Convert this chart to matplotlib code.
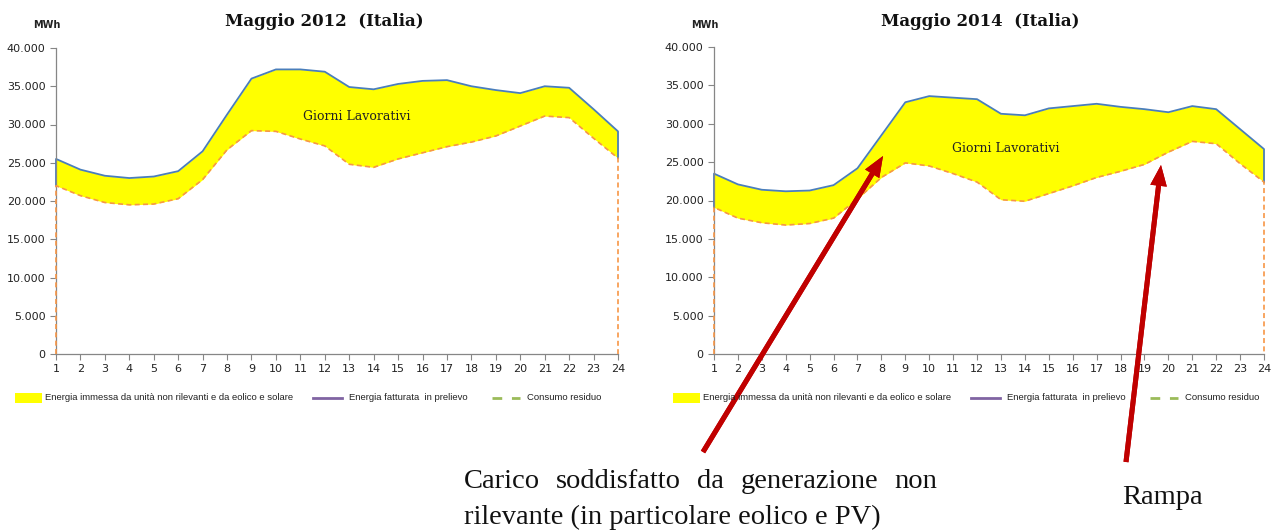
import matplotlib.pyplot as plt
from matplotlib.patches import Rectangle
from matplotlib.lines import Line2D
from matplotlib.ticker import FuncFormatter

hours = list(range(1, 25))

# Maggio 2012 - energia fatturata in prelievo / consumo residuo (MWh)
load_2012 = [25500, 24100, 23300, 23000, 23200, 23900, 26500, 31300, 36000, 37200, 37200, 36900,
             34900, 34600, 35300, 35700, 35800, 35000, 34500, 34100, 35000, 34800, 32000, 29100]
resid_2012 = [22000, 20700, 19800, 19500, 19600, 20300, 22800, 26700, 29200, 29100, 28100, 27200,
              24800, 24400, 25500, 26300, 27100, 27700, 28500, 29800, 31100, 30900, 28200, 25600]

# Maggio 2014
load_2014 = [23500, 22100, 21400, 21200, 21300, 22000, 24200, 28500, 32800, 33600, 33400, 33200,
             31300, 31100, 32000, 32300, 32600, 32200, 31900, 31500, 32300, 31900, 29300, 26700]
resid_2014 = [19100, 17700, 17100, 16800, 17000, 17700, 20200, 23000, 24900, 24500, 23500, 22400,
              20100, 19900, 20900, 21900, 23000, 23800, 24700, 26300, 27700, 27400, 24800, 22400]

titles = ['Maggio 2012  (Italia)', 'Maggio 2014  (Italia)']
legend_labels = ['Energia immessa da unità non rilevanti e da eolico e solare',
                 'Energia fatturata  in prelievo', 'Consumo residuo']
note_left = ['Carico soddisfatto da generazione non', 'rilevante (in particolare eolico e PV)']
note_right = 'Rampa'

fig = plt.figure(figsize=(12.72, 5.31), dpi=100)
W, H = 1272, 531

def fmt(v, pos):
    return '{:,.0f}'.format(v).replace(',', '.')

def px(x, y):
    # pixel from top-left -> figure fraction
    return x / W, (H - y) / H

axes_px = [(56, 618, 48, 354), (714, 1264, 47, 354)]
data = [(load_2012, resid_2012), (load_2014, resid_2014)]
label_pos = [(13.3, 31000), (13.2, 26800)]
title_cx = [324, 980]
offset = [0, 658]

for i in range(2):
    x0, x1, ytop, ybot = axes_px[i]
    ax = fig.add_axes([x0 / W, (H - ybot) / H, (x1 - x0) / W, (ybot - ytop) / H])
    load, resid = data[i]
    ax.fill_between(hours, resid, load, color='#ffff00', lw=0)
    ax.plot([1] + hours + [24], [resid[0]] + load + [resid[-1]], color='#4a7ebb', lw=1.3,
            clip_on=False)
    ax.plot([1] + hours + [24], [0] + resid + [0], color='#f79646', lw=1.2, ls=(0, (3, 2)),
            clip_on=False, zorder=3)
    ax.set_xlim(1, 24)
    ax.set_ylim(0, 40000)
    ax.set_xticks(hours)
    ax.set_yticks(range(0, 40001, 5000))
    ax.yaxis.set_major_formatter(FuncFormatter(fmt))
    for s in ['top', 'right']:
        ax.spines[s].set_visible(False)
    for s in ['left', 'bottom']:
        ax.spines[s].set_color('#868686')
        ax.spines[s].set_linewidth(0.9)
    ax.tick_params(colors='#868686', labelcolor='#222222', labelsize=8, length=4)
    ax.tick_params(axis='x', pad=3)
    ax.patch.set_alpha(0)
    ax.text(*label_pos[i], 'Giorni Lavorativi', family='DejaVu Serif', fontsize=9,
            ha='center', va='center', color='#222222')
    fig.text(*px(title_cx[i], 22), titles[i], family='DejaVu Serif',
             fontweight='bold', fontsize=12, ha='center', va='center', color='#111111')
    fig.text(*px(x0 - 23, 25), 'MWh', family='DejaVu Sans', fontweight='bold', fontsize=7,
             ha='left', va='center', color='#222222')

    # legend drawn by hand below each chart
    o = offset[i]
    ly = 398
    fig.add_artist(Rectangle(px(15 + o, ly + 5), 27 / W, 10 / H, color='#ffff00', lw=0,
                             transform=fig.transFigure))
    fig.add_artist(Line2D([(313 + o) / W, (342 + o) / W], [(H - ly) / H] * 2, color='#8064a2',
                          lw=2, transform=fig.transFigure))
    fig.add_artist(Line2D([(492 + o) / W, (520 + o) / W], [(H - ly) / H] * 2, color='#9bbb59',
                          lw=2, ls=(0, (3.5, 3.5)), transform=fig.transFigure))
    for lx, lab in zip([45, 349, 527], legend_labels):
        fig.text(*px(lx + o, ly), lab, family='Liberation Sans', fontsize=6.8,
                 ha='left', va='center', color='#222222')

# red arrows
for tail, head in [((703, 452), (883, 156)), ((1126, 462), (1161, 165))]:
    fig.add_artist(plt.annotate('', xy=px(*head), xytext=px(*tail),
                                xycoords='figure fraction', textcoords='figure fraction',
                                arrowprops=dict(arrowstyle='simple,head_length=0.75,head_width=0.6,tail_width=0.18',
                                                mutation_scale=20, color='#c00000', lw=0,
                                                shrinkA=0, shrinkB=0)))

# annotation text, first line justified between x=464 and x=937
renderer = fig.canvas.get_renderer()
words = note_left[0].split()
arts = [fig.text(0, 0, w, family='Liberation Serif', fontsize=20.5, va='center',
                 color='#111111') for w in words]
widths = [a.get_window_extent(renderer).width for a in arts]
gap = (937 - 464 - sum(widths)) / (len(words) - 1)
xx = 464
for a, w in zip(arts, widths):
    a.set_position(px(xx, 482))
    xx += w + gap
fig.text(*px(464, 517), note_left[1], family='Liberation Serif', fontsize=20.5,
         ha='left', va='center', color='#111111')
fig.text(*px(1122, 498), note_right, family='Liberation Serif', fontsize=20.5,
         ha='left', va='center', color='#111111')

fig.savefig('out.png', dpi=100)
